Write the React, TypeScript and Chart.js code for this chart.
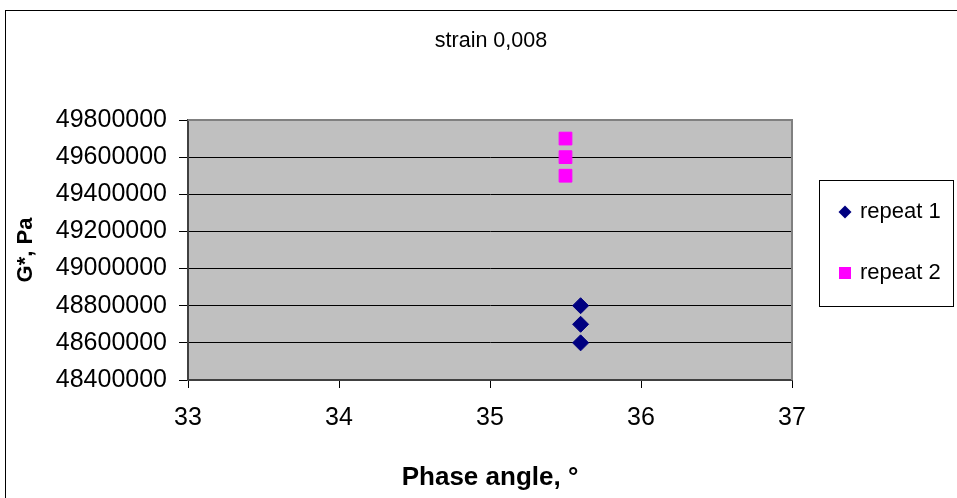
import React, { useEffect, useRef } from "react";
import { Chart, registerables } from "chart.js";

Chart.register(...registerables);

const TITLE = "strain 0,008";
const X_TITLE = "Phase angle, °";
const Y_TITLE = "G*, Pa";
const SERIES_NAMES = ["repeat 1", "repeat 2"];
const repeat1X = [35.6, 35.6, 35.6];
const repeat1Y = [48800000, 48700000, 48600000];
const repeat2X = [35.5, 35.5, 35.5];
const repeat2Y = [49700000, 49600000, 49500000];
const X_MIN = 33;
const X_MAX = 37;
const X_STEP = 1;
const Y_MIN = 48400000;
const Y_MAX = 49800000;
const Y_STEP = 200000;

const FONT = "'Liberation Sans', Arial, sans-serif";

function drawMarker(ctx: CanvasRenderingContext2D, style: string, x: number, y: number, r: number, color: string) {
  ctx.save();
  ctx.fillStyle = color;
  ctx.beginPath();
  if (style === "rectRot") {
    ctx.moveTo(x, y - r);
    ctx.lineTo(x + r, y);
    ctx.lineTo(x, y + r);
    ctx.lineTo(x - r, y);
    ctx.closePath();
  } else {
    ctx.rect(x - r, y - r, 2 * r, 2 * r);
  }
  ctx.fill();
  ctx.restore();
}

const excelPlugin = {
  id: "excelLook",
  beforeDraw(chart: any) {
    const { ctx, chartArea: a, width, height } = chart;
    ctx.save();
    ctx.fillStyle = "#ffffff";
    ctx.fillRect(0, 0, width, height);
    ctx.strokeStyle = "#000000";
    ctx.lineWidth = 1;
    ctx.strokeRect(5.5, 10.5, width + 20, height + 20);
    ctx.fillStyle = "#C0C0C0";
    ctx.fillRect(a.left, a.top, a.right - a.left, a.bottom - a.top);
    ctx.restore();
  },
  beforeDatasetsDraw(chart: any) {
    const { ctx, chartArea: a } = chart;
    ctx.save();
    ctx.strokeStyle = "#808080";
    ctx.lineWidth = 2;
    ctx.beginPath();
    ctx.moveTo(a.left, a.top);
    ctx.lineTo(a.right, a.top);
    ctx.lineTo(a.right, a.bottom);
    ctx.stroke();
    ctx.restore();
  },
  afterDraw(chart: any) {
    const { ctx, chartArea: a } = chart;
    ctx.save();
    ctx.fillStyle = "#000000";
    ctx.font = `21.5px ${FONT}`;
    ctx.textAlign = "center";
    ctx.textBaseline = "middle";
    ctx.fillText(TITLE, (a.left + a.right) / 2 + 1, 41);

    // legend
    ctx.strokeStyle = "#000000";
    ctx.lineWidth = 1;
    ctx.strokeRect(819.5, 180.5, 134, 126);
    ctx.font = `22px ${FONT}`;
    ctx.textAlign = "left";
    chart.data.datasets.forEach((ds: any, i: number) => {
      const y = 212 + i * 61;
      const isDiamond = ds.pointStyle === "rectRot";
      drawMarker(ctx, ds.pointStyle, 845, y, isDiamond ? 6.5 : 6, ds.backgroundColor);
      ctx.fillStyle = "#000000";
      ctx.fillText(ds.label, 860, y);
    });
    ctx.restore();
  },
};

export default function App() {
  const ref = useRef<HTMLCanvasElement>(null);
  useEffect(() => {
    document.body.style.margin = "0";
    const chart = new Chart(ref.current!, {
      type: "scatter",
      data: {
        datasets: [
          {
            label: SERIES_NAMES[0],
            data: repeat1X.map((x, i) => ({ x, y: repeat1Y[i] })),
            pointStyle: "rectRot",
            pointRadius: 8,
            backgroundColor: "#000080",
            borderColor: "#000080",
            borderWidth: 1,
          },
          {
            label: SERIES_NAMES[1],
            data: repeat2X.map((x, i) => ({ x, y: repeat2Y[i] })),
            pointStyle: "rect",
            pointRadius: 9,
            backgroundColor: "#FF00FF",
            borderColor: "#FF00FF",
            borderWidth: 1,
          },
        ],
      },
      options: {
        responsive: false,
        animation: false,
        events: [],
        layout: { padding: { top: 120, right: 165, left: 0, bottom: 0 } },
        plugins: {
          legend: { display: false },
          title: { display: false },
          tooltip: { enabled: false },
        },
        scales: {
          x: {
            type: "linear",
            min: X_MIN,
            max: X_MAX,
            afterFit: (s: any) => {
              s.height = 118;
            },
            ticks: {
              stepSize: X_STEP,
              color: "#000",
              font: { family: FONT, size: 25 },
              padding: 15,
              maxRotation: 0,
              callback: (v: any) => String(v),
            },
            grid: {
              display: true,
              drawOnChartArea: false,
              drawTicks: true,
              tickLength: 8,
              color: "#000",
            },
            border: { display: true, color: "#404040", width: 2 },
            title: {
              display: true,
              text: X_TITLE,
              color: "#000",
              font: { family: FONT, size: 26, weight: "bold" },
              padding: { top: 0, bottom: 5 },
            },
          },
          y: {
            type: "linear",
            min: Y_MIN,
            max: Y_MAX,
            afterFit: (s: any) => {
              s.width = 188;
            },
            ticks: {
              stepSize: Y_STEP,
              autoSkip: false,
              color: "#000",
              font: { family: FONT, size: 25 },
              padding: 12,
              callback: (v: any) => String(v),
            },
            grid: {
              display: true,
              drawOnChartArea: true,
              drawTicks: true,
              tickLength: 9,
              color: "#000",
            },
            border: { display: true, color: "#404040", width: 2 },
            title: {
              display: true,
              text: Y_TITLE,
              color: "#000",
              font: { family: FONT, size: 22, weight: "bold" },
              padding: { top: 13, bottom: 0 },
            },
          },
        },
      },
      plugins: [excelPlugin],
    });
    return () => chart.destroy();
  }, []);
  return <canvas ref={ref} width={957} height={498} style={{ display: "block" }} />;
}
